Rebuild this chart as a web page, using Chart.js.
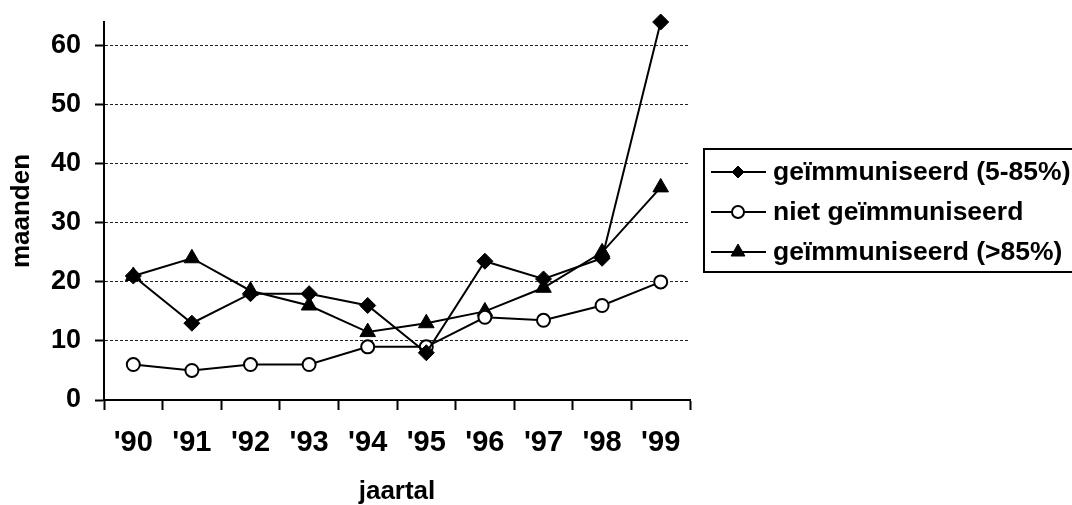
<!DOCTYPE html>
<html lang="nl">
<head>
    <meta charset="UTF-8">
    <title>maanden per jaartal</title>
    <script src="https://cdn.jsdelivr.net/npm/chart.js"></script>
    <style>
        * {
            margin: 0;
            padding: 0;
            box-sizing: border-box;
        }
        body {
            background-color: #fff;
        }
        .chart-box {
            width: 1072px;
            height: 505px;
        }
    </style>
</head>
<body>

    <div class="chart-box">
        <canvas id="maandenChart"></canvas>
    </div>

    <script>
        // Gegevens
        const jaren = ["'90", "'91", "'92", "'93", "'94", "'95", "'96", "'97", "'98", "'99"];
        const geimmuniseerd585 = [21, 13, 18, 18, 16, 8, 23.5, 20.5, 24, 64];
        const nietGeimmuniseerd = [6, 5, 6, 6, 9, 9, 14, 13.5, 16, 20];
        const geimmuniseerd85 = [21, 24, 18.5, 16, 11.5, 13, 15, 19, 25, 36];
        const yTicks = [0, 10, 20, 30, 40, 50, 60];

        const fontFam = '"Liberation Sans", Arial, sans-serif';

        // Legende met kader, zoals in het origineel
        const boxLegend = {
            id: 'boxLegend',
            afterDraw(chart) {
                const ctx = chart.ctx;
                ctx.save();
                ctx.strokeStyle = '#000';
                ctx.lineWidth = 2;
                ctx.strokeRect(704, 149, 380, 123);
                const rows = [172, 212, 252];
                chart.data.datasets.forEach((ds, i) => {
                    const y = rows[i];
                    ctx.beginPath();
                    ctx.strokeStyle = '#000';
                    ctx.lineWidth = 2;
                    ctx.moveTo(711, y);
                    ctx.lineTo(766, y);
                    ctx.stroke();
                    ctx.fillStyle = ds.pointBackgroundColor;
                    ctx.strokeStyle = '#000';
                    ctx.lineWidth = ds.pointBorderWidth;
                    Chart.helpers.drawPoint(ctx, {
                        pointStyle: ds.pointStyle,
                        radius: ds.legendRadius,
                        borderWidth: ds.pointBorderWidth,
                        rotation: 0
                    }, 738, y);
                    ctx.fillStyle = '#000';
                    ctx.font = 'bold 26.5px ' + fontFam;
                    ctx.textBaseline = 'middle';
                    ctx.textAlign = 'left';
                    ctx.fillText(ds.label, 773, y + 1);
                });
                ctx.restore();
            }
        };

        const ctx1 = document.getElementById('maandenChart').getContext('2d');
        const maandenChart = new Chart(ctx1, {
            type: 'line',
            data: {
                labels: jaren,
                datasets: [{
                    label: 'geïmmuniseerd (5-85%)',
                    data: geimmuniseerd585,
                    clip: false,
                    borderColor: '#000',
                    borderWidth: 2,
                    pointStyle: 'rectRot',
                    pointRadius: 8,
                    legendRadius: 6,
                    pointBackgroundColor: '#000',
                    pointBorderColor: '#000',
                    pointBorderWidth: 1
                }, {
                    label: 'niet geïmmuniseerd',
                    data: nietGeimmuniseerd,
                    clip: false,
                    borderColor: '#000',
                    borderWidth: 2,
                    pointStyle: 'circle',
                    pointRadius: 6.5,
                    legendRadius: 6,
                    pointBackgroundColor: '#fff',
                    pointBorderColor: '#000',
                    pointBorderWidth: 2
                }, {
                    label: 'geïmmuniseerd (>85%)',
                    data: geimmuniseerd85,
                    clip: false,
                    borderColor: '#000',
                    borderWidth: 2,
                    pointStyle: 'triangle',
                    pointRadius: 9,
                    legendRadius: 8,
                    pointBackgroundColor: '#000',
                    pointBorderColor: '#000',
                    pointBorderWidth: 1
                }]
            },
            options: {
                responsive: true,
                maintainAspectRatio: false,
                animation: false,
                layout: {
                    padding: { top: 22, right: 382, left: 0, bottom: 0 }
                },
                plugins: {
                    legend: { display: false },
                    tooltip: { enabled: false }
                },
                scales: {
                    x: {
                        offset: true,
                        afterFit(s) { s.height = 105; },
                        grid: {
                            offset: true,
                            drawOnChartArea: false,
                            tickLength: 10,
                            tickColor: '#000',
                            tickWidth: 2
                        },
                        border: { color: '#000', width: 2 },
                        ticks: {
                            color: '#000',
                            padding: 16,
                            maxRotation: 0,
                            font: { family: fontFam, size: 29, weight: 'bold' }
                        },
                        title: {
                            display: true,
                            text: 'jaartal',
                            color: '#000',
                            padding: { top: 1, bottom: 0 },
                            font: { family: fontFam, size: 26, weight: 'bold', lineHeight: 1 }
                        }
                    },
                    y: {
                        min: 0,
                        max: 64,
                        afterFit(s) {
                            s.width = 104;
                            s.paddingTop = 0;
                            s.paddingBottom = 0;
                        },
                        afterBuildTicks(s) {
                            s.ticks = yTicks.map(v => ({ value: v }));
                        },
                        grid: {
                            color: (c) => c.tick && c.tick.value === 0 ? 'rgba(0,0,0,0)' : '#222',
                            lineWidth: 1,
                            tickLength: 9,
                            tickColor: '#000',
                            tickWidth: 2,
                            tickBorderDash: []
                        },
                        border: { color: '#000', width: 2, dash: [3, 2] },
                        ticks: {
                            color: '#000',
                            padding: 14,
                            font: { family: fontFam, size: 27, weight: 'bold' }
                        },
                        title: {
                            display: true,
                            text: 'maanden',
                            color: '#000',
                            padding: { top: 9, bottom: 0 },
                            font: { family: fontFam, size: 26, weight: 'bold', lineHeight: 1 }
                        }
                    }
                }
            },
            plugins: [boxLegend]
        });
    </script>
</body>
</html>
